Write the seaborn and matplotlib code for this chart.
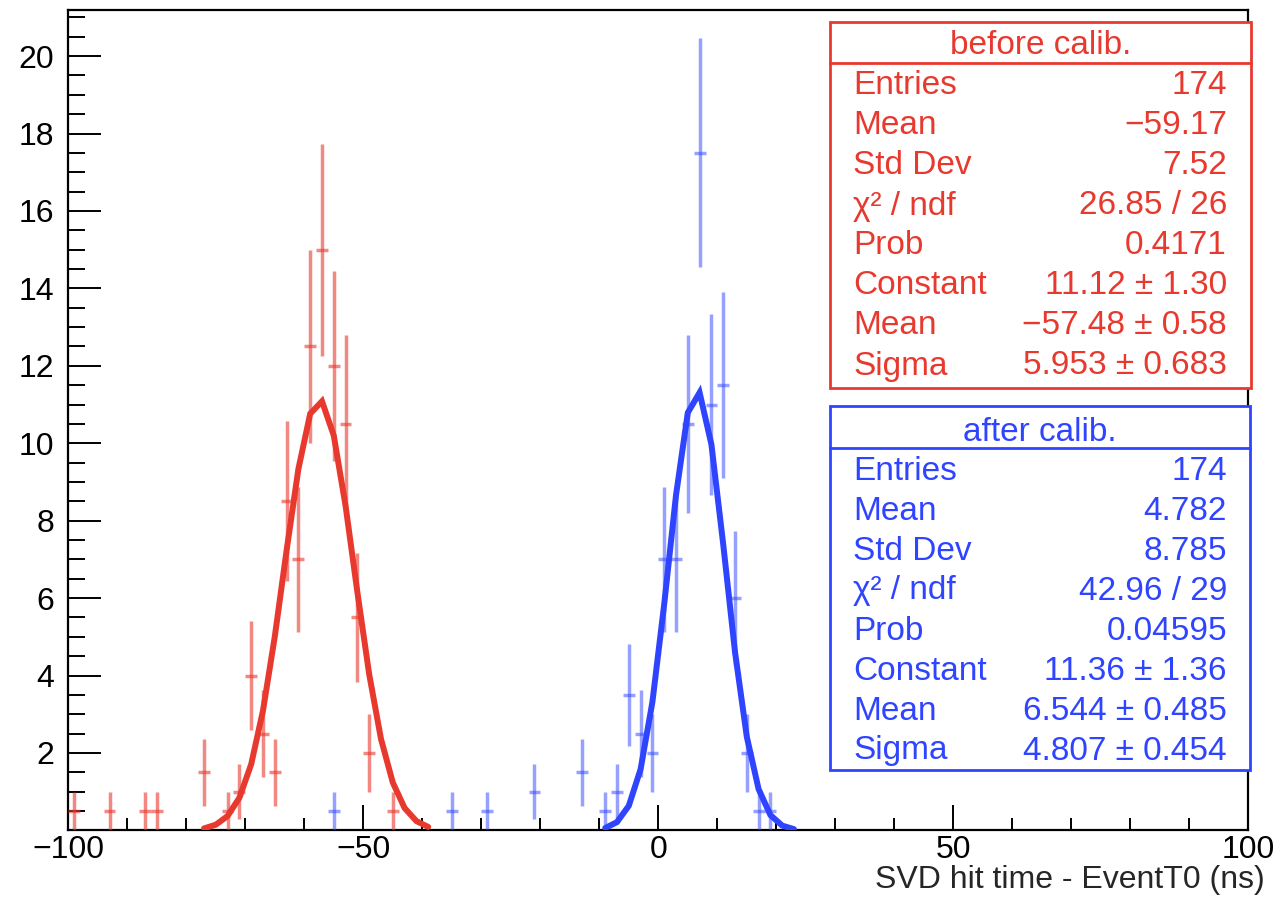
import numpy as np
import pandas as pd
import matplotlib
matplotlib.use("Agg")
import matplotlib.pyplot as plt
from matplotlib.patches import Rectangle
from matplotlib.ticker import MultipleLocator
import seaborn as sns

# Weighted histogram contents (2 ns bins, bin centres in ns)
before_centers = [-99, -93, -87, -85, -77, -73, -71, -69, -67, -65, -63, -61,
                  -59, -57, -55, -53, -51, -49, -45]
before_counts = [0.5, 0.5, 0.5, 0.5, 1.5, 0.5, 1.0, 4.0, 2.5, 1.5, 8.5, 7.0,
                 12.5, 15.0, 12.0, 10.5, 5.5, 2.0, 0.5]
after_centers = [-55, -35, -29, -21, -13, -9, -7, -5, -3, -1, 1, 3, 5, 7, 9,
                 11, 13, 15, 17, 19]
after_counts = [0.5, 0.5, 0.5, 1.0, 1.5, 0.5, 1.0, 3.5, 2.5, 2.0, 7.0, 7.0,
                10.5, 17.5, 11.0, 11.5, 6.0, 2.0, 0.5, 0.5]
entry_weight = 0.5
bin_width = 2.0

# Gaussian fit results (constant, mean, sigma) and the fit ranges
before_fit = (11.12, -57.48, 5.953)
after_fit = (11.36, 6.544, 4.807)
before_fit_range = (-77, -39)
after_fit_range = (-9, 23)

# Statistics box contents
stat_labels = ["Entries", "Mean", "Std Dev", "\u03c7\u00b2 / ndf", "Prob",
               "Constant", "Mean", "Sigma"]
before_stats = ["174", "\u221259.17", "7.52", "26.85 / 26", "0.4171",
                "11.12 \u00b1 1.30", "\u221257.48 \u00b1 0.58", "5.953 \u00b1 0.683"]
after_stats = ["174", "4.782", "8.785", "42.96 / 29", "0.04595",
               "11.36 \u00b1 1.36", "6.544 \u00b1 0.485", "4.807 \u00b1 0.454"]

x_ticks = [-100, -50, 0, 50, 100]
x_tick_labels = ["\u2212100", "\u221250", "0", "50", "100"]
y_ticks = [2, 4, 6, 8, 10, 12, 14, 16, 18, 20]

RED = "#e8392f"
BLUE = "#2f44ff"

sns.set_theme(style="ticks")
plt.rcParams["font.family"] = ["Liberation Sans", "DejaVu Sans"]
plt.rcParams["axes.unicode_minus"] = True

W, H = 1285, 902
fig = plt.figure(figsize=(W / 100, H / 100), dpi=100)
fig.patch.set_facecolor("white")
ax = fig.add_axes([68.3 / W, 1 - 830.4 / H, (1248.3 - 68.3) / W, (830.4 - 10) / H])
ax.set_facecolor("white")


def hist_frame(centers, counts):
    df = pd.DataFrame({"t": centers, "n": counts})
    # sum of squared weights -> statistical error of each bin
    df["err"] = np.sqrt(df["n"] / entry_weight) * entry_weight
    return df


def fit_frame(params, fit_range):
    const, mean, sigma = params
    t = np.arange(fit_range[0], fit_range[1] + 1, bin_width)
    return pd.DataFrame({"t": t, "f": const * np.exp(-0.5 * ((t - mean) / sigma) ** 2)})


for centers, counts, params, frange, col, alpha in [
    (before_centers, before_counts, before_fit, before_fit_range, RED, 0.6),
    (after_centers, after_counts, after_fit, after_fit_range, BLUE, 0.5),
]:
    h = hist_frame(centers, counts)
    ax.errorbar(h["t"], h["n"], yerr=h["err"], xerr=bin_width / 2, fmt="none",
                ecolor=col, elinewidth=2.5, alpha=alpha, capsize=0, zorder=3)
    f = fit_frame(params, frange)
    sns.lineplot(data=f, x="t", y="f", ax=ax, color=col, linewidth=4.3,
                 sort=True, zorder=4, solid_joinstyle="miter")

ax.set_xlim(-100, 100)
ax.set_ylim(0, 21.19)
ax.set_xticks(x_ticks)
ax.set_xticklabels(x_tick_labels)
ax.set_yticks(y_ticks)
ax.xaxis.set_minor_locator(MultipleLocator(10))
ax.yaxis.set_minor_locator(MultipleLocator(0.5))
ax.tick_params(axis="both", which="both", direction="in", colors="black",
               labelsize=23, top=False, right=False, width=1.4)
ax.tick_params(axis="y", which="major", length=24, pad=10)
ax.tick_params(axis="y", which="minor", length=12)
ax.tick_params(axis="x", which="major", length=18, pad=3)
ax.tick_params(axis="x", which="minor", length=9)
for sp in ax.spines.values():
    sp.set_visible(True)
    sp.set_color("black")
    sp.set_linewidth(1.6)

ax.set_ylabel("")
ax.set_xlabel("SVD hit time - EventT0 (ns)", fontsize=23, ha="right", va="center")
ax.xaxis.set_label_coords((1265 - 68.3) / (1248.3 - 68.3), (830.4 - 880) / (830.4 - 10))


def stat_box(title, values, col, left, right, top, sep, bottom, title_y, row0):
    tr = fig.transFigure
    fig.patches.append(Rectangle((left / W, 1 - bottom / H), (right - left) / W,
                                 (bottom - top) / H, transform=tr, fill=True,
                                 facecolor="white", edgecolor=col, linewidth=2.0,
                                 zorder=5))
    fig.lines.append(plt.Line2D([left / W, right / W], [1 - sep / H, 1 - sep / H],
                                transform=tr, color=col, linewidth=2.0, zorder=6))
    fig.text((left + right) / 2 / W, 1 - title_y / H, title, color=col,
             fontsize=24, ha="center", va="center", zorder=7)
    for i, (lab, val) in enumerate(zip(stat_labels, values)):
        y = 1 - (row0 + 40 * i) / H
        fig.text(853 / W, y, lab, color=col, fontsize=24, ha="left",
                 va="center", zorder=7)
        fig.text(1227 / W, y, val, color=col, fontsize=24, ha="right",
                 va="center", zorder=7)


stat_box("before calib.", before_stats, RED, 830, 1251, 22, 63, 388, 45, 86)
stat_box("after calib.", after_stats, BLUE, 830, 1250, 406, 448, 770, 432, 471)

fig.savefig("out.png", dpi=100, facecolor="white")
